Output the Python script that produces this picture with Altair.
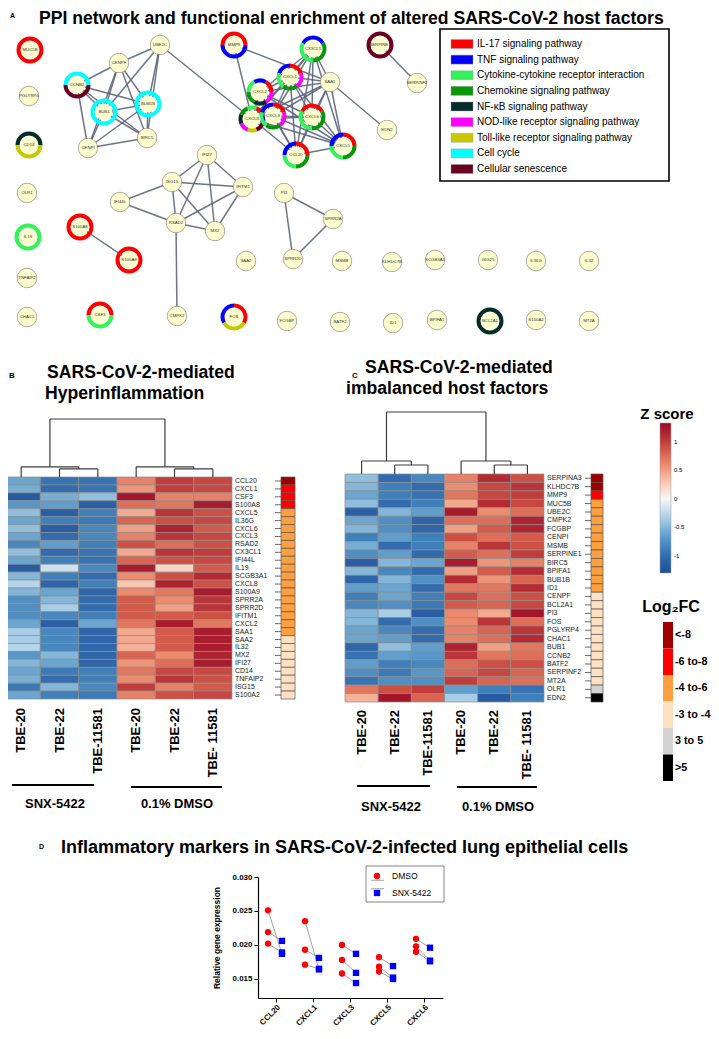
import math
import altair as alt
import pandas as pd

FONT = "Liberation Sans"
M = 8  # page margin
W, H = 703, 1023


def X(v):
    return v - M


def Y(v):
    return v - M


# ---------------- Panel A : network ----------------
pathways = ["IL-17 signaling pathway", "TNF signaling pathway",
            "Cytokine-cytokine receptor interaction", "Chemokine signaling pathway",
            "NF-\u03baB signaling pathway", "NOD-like receptor signaling pathway",
            "Toll-like receptor signaling pathway", "Cell cycle", "Cellular senescence"]
pathway_keys = ["IL17", "TNF", "CYT", "CHEM", "NFKB", "NOD", "TLR", "CC", "SEN"]
pathway_colors = ["#ff0000", "#0000ff", "#33f25a", "#0a960a", "#062c2a",
                  "#ff00ff", "#c8c800", "#00ffff", "#6b0022"]

node_names = ["MUC5B", "PGLYRP4", "CD14", "OLR1", "IL19", "TNFAIP2", "CHAC1",
              "CCNB2", "CENPF", "UBE2C", "BUB1", "BUB1B", "BIRC5", "CENPI",
              "MMP9", "CX3CL1", "SERPINE1", "SERPINF2", "CXCL1", "SAA1", "CXCL2", "CXCL8",
              "CXCL3", "CXCL6", "CCL20", "CXCL5", "EDN2",
              "IFI27", "ISG15", "IFITM1", "IFI44L", "RSAD2", "MX2", "PI3", "SPRR2A",
              "S100A8", "S100A9", "CMPK2",
              "SAA2", "SPRR2D", "MSMB", "KLHDC7B", "SCGB3A1", "GIG25", "IL36G", "IL32",
              "CSF3", "FOS", "FCGBP", "BATF2", "ID1", "BPIFA1", "BCL2A1", "S100A2", "MT2A"]
node_lx = [30, 29, 29, 27, 28, 27, 27,
           77, 119, 160, 104, 148, 147, 88,
           234, 313, 380, 417, 290, 330, 260, 252,
           273, 312, 296, 343, 387,
           207, 172, 243, 120, 176, 215, 284, 333,
           80, 129, 177,
           246, 293, 342, 392, 435, 488, 536, 589,
           100, 234, 287, 340, 393, 437, 490, 536, 589]
node_ly = [50, 96, 145, 193, 237, 278, 317,
           85, 63, 45, 112, 104, 138, 148,
           45, 49, 45, 83, 77, 82, 92, 119,
           116, 117, 155, 146, 130,
           155, 182, 187, 202, 223, 231, 193, 219,
           227, 260, 316,
           261, 259, 261, 262, 260, 260, 261, 261,
           315, 317, 321, 322, 323, 320, 321, 320, 321]

# pathway membership of ring nodes (clockwise) and start angle of first segment
ring_members = {
    "MUC5B": (["IL17"], 0),
    "CD14": (["NFKB", "TLR"], -90),
    "IL19": (["CYT"], 0),
    "CCNB2": (["CC", "SEN"], -90),
    "BUB1": (["CC"], 0),
    "BUB1B": (["CC"], 0),
    "MMP9": (["IL17", "TNF"], -90),
    "CX3CL1": (["TNF", "CHEM", "CYT"], -60),
    "SERPINE1": (["SEN"], 0),
    "CXCL1": (["TNF", "IL17", "NOD", "CHEM", "CYT"], -72),
    "CXCL2": (["TNF", "IL17", "NOD", "NFKB", "CHEM", "CYT"], -30),
    "CXCL8": (["CYT", "IL17", "TNF", "SEN", "TLR", "NOD", "NFKB", "CHEM"], -22.5),
    "CXCL3": (["TNF", "IL17", "NOD", "CHEM", "CYT"], -72),
    "CXCL6": (["IL17", "CHEM", "CYT"], -60),
    "CCL20": (["TNF", "IL17", "CHEM", "CYT"], -90),
    "CXCL5": (["TNF", "IL17", "CHEM", "CYT"], -90),
    "S100A8": (["IL17"], 0),
    "S100A9": (["IL17"], 0),
    "CSF3": (["IL17", "CYT"], -90),
    "FOS": (["TNF", "IL17", "TLR"], -120),
    "BCL2A1": (["NFKB"], 0),
}

edges = [("CCNB2", "CENPF"), ("CCNB2", "BUB1"), ("CCNB2", "BUB1B"), ("CCNB2", "BIRC5"),
         ("CCNB2", "CENPI"), ("CENPF", "UBE2C"), ("CENPF", "BUB1"), ("CENPF", "BUB1B"),
         ("CENPF", "BIRC5"), ("CENPF", "CENPI"), ("UBE2C", "BUB1"), ("UBE2C", "BUB1B"),
         ("UBE2C", "BIRC5"), ("BUB1", "BUB1B"), ("BUB1", "BIRC5"), ("BUB1", "CENPI"),
         ("BUB1B", "BIRC5"), ("BUB1B", "CENPI"), ("BIRC5", "CENPI"), ("UBE2C", "CXCL8"),
         ("MMP9", "CXCL8"), ("MMP9", "SAA1"), ("SAA1", "EDN2"), ("SERPINE1", "SERPINF2"),
         ("SAA1", "CX3CL1"), ("SAA1", "CXCL1"), ("SAA1", "CXCL2"), ("SAA1", "CXCL3"),
         ("SAA1", "CXCL6"), ("SAA1", "CCL20"), ("SAA1", "CXCL5"), ("SAA1", "CXCL8"),
         ("IFI27", "ISG15"), ("IFI27", "IFITM1"), ("IFI27", "RSAD2"), ("IFI27", "MX2"),
         ("ISG15", "IFITM1"), ("ISG15", "IFI44L"), ("ISG15", "RSAD2"), ("ISG15", "MX2"),
         ("IFITM1", "RSAD2"), ("IFITM1", "MX2"), ("IFI44L", "RSAD2"), ("RSAD2", "MX2"),
         ("RSAD2", "CMPK2"), ("PI3", "SPRR2A"), ("PI3", "SPRR2D"), ("SPRR2A", "SPRR2D"),
         ("S100A8", "S100A9")]
chemokines = ["CX3CL1", "CXCL1", "CXCL2", "CXCL8", "CXCL3", "CXCL6", "CCL20", "CXCL5"]

# ---------------- Panels B / C : heatmaps ----------------
sample_labels = ["TBE-20", "TBE-22", "TBE-11581", "TBE-20", "TBE-22", "TBE- 11581"]
sample_groups = ["SNX-5422", "SNX-5422", "SNX-5422", "0.1% DMSO", "0.1% DMSO", "0.1% DMSO"]

genes_B = ["CCL20", "CXCL1", "CSF3", "S100A8", "CXCL5", "IL36G", "CXCL6", "CXCL3", "RSAD2",
           "CX3CL1", "IFI44L", "IL19", "SCGB3A1", "CXCL8", "S100A9", "SPRR2A", "SPRR2D",
           "IFITM1", "CXCL2", "SAA1", "SAA2", "IL32", "MX2", "IFI27", "CD14", "TNFAIP2",
           "ISG15", "S100A2"]
z_B = [
    [-0.60, -0.95, -0.95, 0.65, 1.00, 0.95],
    [-0.55, -1.00, -0.95, 0.55, 1.00, 0.95],
    [-1.15, -0.55, -0.45, 1.25, 0.65, 0.65],
    [-0.70, -0.65, -1.10, 0.75, 0.70, 1.20],
    [-0.45, -1.10, -0.85, 0.45, 1.05, 0.90],
    [-0.60, -0.85, -0.90, 0.80, 0.90, 0.95],
    [-0.45, -1.10, -0.80, 0.50, 1.15, 0.85],
    [-0.60, -1.00, -0.80, 0.65, 1.05, 0.95],
    [-0.80, -0.65, -0.85, 0.90, 0.75, 0.90],
    [-0.45, -1.00, -0.95, 0.45, 1.05, 1.00],
    [-0.60, -0.85, -0.95, 0.80, 0.90, 0.95],
    [-1.15, -0.20, -0.80, 1.20, 0.20, 0.85],
    [-0.50, -0.85, -1.00, 0.60, 0.90, 1.10],
    [-0.30, -1.05, -0.85, 0.30, 1.15, 0.90],
    [-0.50, -0.60, -1.05, 0.60, 0.70, 1.20],
    [-0.75, -0.50, -1.00, 0.85, 0.60, 1.05],
    [-0.75, -0.35, -1.00, 0.85, 0.50, 1.05],
    [-0.75, -0.80, -0.85, 0.85, 0.85, 0.90],
    [-0.60, -1.10, -0.60, 0.70, 1.20, 0.70],
    [-0.35, -0.80, -1.05, 0.45, 0.85, 1.20],
    [-0.35, -0.80, -1.05, 0.45, 0.85, 1.20],
    [-0.30, -0.80, -1.05, 0.40, 0.85, 1.20],
    [-0.70, -0.50, -1.05, 0.80, 0.60, 1.15],
    [-0.50, -0.60, -1.05, 0.55, 0.75, 1.20],
    [-0.60, -0.90, -0.85, 0.70, 0.95, 0.95],
    [-0.55, -1.00, -0.85, 0.60, 1.05, 0.90],
    [-0.90, -0.50, -0.80, 1.00, 0.65, 0.85],
    [-0.60, -0.85, -0.90, 0.65, 0.90, 0.95],
]
fc_B = ["<-8", "-6 to-8", "-6 to-8", "-6 to-8", "-4 to-6", "-4 to-6", "-4 to-6", "-4 to-6",
        "-4 to-6", "-4 to-6", "-4 to-6", "-4 to-6", "-4 to-6", "-4 to-6", "-4 to-6", "-4 to-6",
        "-4 to-6", "-4 to-6", "-4 to-6", "-4 to-6", "-3 to -4", "-3 to -4", "-3 to -4",
        "-3 to -4", "-3 to -4", "-3 to -4", "-3 to -4", "-3 to -4"]
merges_B = [(1, 2, 1.4), (0, 6, 1.75), (4, 5, 1.4), (3, 8, 1.75), (7, 9, 10.0)]

genes_C = ["SERPINA3", "KLHDC7B", "MMP9", "MUC5B", "UBE2C", "CMPK2", "FCGBP", "CENPI", "MSMB",
           "SERPINE1", "BIRC5", "BPIFA1", "BUB1B", "ID1", "CENPF", "BCL2A1", "PI3", "FOS",
           "PGLYRP4", "CHAC1", "BUB1", "CCNB2", "BATF2", "SERPINF2", "MT2A", "OLR1", "EDN2"]
z_C = [
    [-0.45, -1.00, -0.80, 0.65, 1.10, 0.90],
    [-0.50, -0.85, -1.00, 0.60, 0.95, 1.05],
    [-0.60, -0.85, -0.95, 0.70, 0.95, 1.00],
    [-0.45, -1.00, -0.85, 0.45, 1.10, 0.95],
    [-1.10, -0.50, -0.65, 1.20, 0.60, 0.75],
    [-0.60, -0.75, -1.05, 0.75, 0.75, 1.15],
    [-0.50, -0.75, -1.05, 0.50, 0.85, 1.15],
    [-0.85, -0.65, -0.85, 0.90, 0.75, 0.85],
    [-0.55, -1.00, -0.85, 0.65, 1.05, 0.90],
    [-0.75, -0.65, -1.00, 0.85, 0.75, 1.00],
    [-1.10, -0.50, -0.60, 1.20, 0.55, 0.65],
    [-0.50, -0.80, -1.00, 0.50, 0.85, 1.10],
    [-1.05, -0.50, -0.75, 1.10, 0.55, 0.80],
    [-0.65, -0.60, -1.00, 0.70, 0.70, 1.10],
    [-0.85, -0.60, -0.85, 0.95, 0.75, 0.90],
    [-0.80, -0.75, -0.90, 0.85, 0.80, 0.95],
    [-0.50, -0.35, -1.10, 0.60, 0.45, 1.25],
    [-0.50, -1.00, -0.75, 0.60, 1.05, 0.75],
    [-0.60, -0.80, -1.00, 0.65, 0.80, 1.05],
    [-0.60, -0.65, -1.00, 0.65, 0.75, 1.10],
    [-1.05, -0.45, -0.65, 1.15, 0.50, 0.70],
    [-0.95, -0.65, -0.70, 1.05, 0.70, 0.75],
    [-0.65, -0.85, -0.80, 0.75, 0.90, 0.90],
    [-0.75, -0.90, -0.70, 0.80, 0.95, 0.80],
    [-0.95, -0.75, -0.75, 1.00, 0.80, 0.75],
    [0.70, 0.90, 1.00, -0.65, -0.85, -0.95],
    [0.40, 1.25, 0.80, -0.35, -1.15, -0.85],
]
fc_C = ["<-8", "<-8", "-6 to-8", "-4 to-6", "-4 to-6", "-4 to-6", "-4 to-6", "-4 to-6",
        "-4 to-6", "-4 to-6", "-4 to-6", "-4 to-6", "-4 to-6", "-4 to-6", "-3 to -4",
        "-3 to -4", "-3 to -4", "-3 to -4", "-3 to -4", "-3 to -4", "-3 to -4", "-3 to -4",
        "-3 to -4", "-3 to -4", "-3 to -4", "3 to 5", ">5"]
merges_C = [(1, 2, 1.45), (0, 6, 2.1), (4, 5, 1.45), (3, 8, 2.1), (7, 9, 10.0)]

fc_levels = ["<-8", "-6 to-8", "-4 to-6", "-3 to -4", "3 to 5", ">5"]
fc_colors = ["#9e0000", "#ff0000", "#ffa040", "#ffe0c2", "#d3d3d3", "#000000"]
z_ticks = [1, 0.5, 0, -0.5, -1]
z_stops = [-1.3, -1.1, -0.85, -0.6, -0.3, 0, 0.3, 0.6, 0.85, 1.1, 1.33]
z_colors = ["#1f4e95", "#2a5fa5", "#3f80bb", "#6aa6d0", "#b5d5ea", "#f7f7f7",
            "#f9c6ae", "#ec8b6e", "#d45a4a", "#b52a33", "#9a0a25"]

# ---------------- Panel D ----------------
d_cats = ["CCL20", "CXCL1", "CXCL3", "CXCL5", "CXCL6"]
d_groups = ["DMSO", "SNX-5422"]
dmso_vals = [[0.0251, 0.0219, 0.0202], [0.0235, 0.0193, 0.0171], [0.0200, 0.0178, 0.0158],
             [0.0182, 0.0168, 0.0161], [0.0209, 0.0198, 0.0190]]
snx_vals = [[0.0187, 0.0206, 0.0189], [0.0164, 0.0181, 0.0165], [0.0187, 0.0159, 0.0144],
            [0.0169, 0.0152, 0.0150], [0.0196, 0.0177, 0.0176]]
d_yticks = [0.015, 0.020, 0.025, 0.030]

layers = []


def text(t, x, y, size, weight="normal", align="left", baseline="middle", angle=0):
    return alt.Chart(pd.DataFrame({"t": [t]})).mark_text(
        align=align, baseline=baseline, fontSize=size, fontWeight=weight, angle=angle,
        font=FONT, color="black").encode(x=alt.value(X(x)), y=alt.value(Y(y)), text="t:N")


def box(x0, x1, y0, y1, stroke="black", width=1.5, fill="white"):
    return alt.Chart(pd.DataFrame({"b": [0]})).mark_rect(
        fill=fill, stroke=stroke, strokeWidth=width).encode(
        x=alt.value(X(x0)), x2=alt.value(X(x1)), y=alt.value(Y(y0)), y2=alt.value(Y(y1)))


def hline(x0, x1, y, width=2):
    return alt.Chart(pd.DataFrame({"b": [0]})).mark_rule(
        color="black", strokeWidth=width).encode(
        x=alt.value(X(x0)), x2=alt.value(X(x1)), y=alt.value(Y(y)))


# ---- Panel A ----
pos = {n: (x, y) for n, x, y in zip(node_names, node_lx, node_ly)}
all_edges = list(edges)
for i in range(len(chemokines)):
    for j in range(i + 1, len(chemokines)):
        all_edges.append((chemokines[i], chemokines[j]))
edge_df = pd.DataFrame([{"x": pos[a][0], "y": pos[a][1], "x2": pos[b][0], "y2": pos[b][1]}
                        for a, b in all_edges])
nx_scale = alt.Scale(domain=[0, 719], range=[X(0), X(719)], zero=False, nice=False)
ny_scale = alt.Scale(domain=[0, 1039], range=[Y(0), Y(1039)], zero=False, nice=False)

layers.append(alt.Chart(edge_df).mark_rule(color="#5e667c", strokeWidth=1.5, opacity=0.9).encode(
    x=alt.X("x:Q", scale=nx_scale, axis=None), y=alt.Y("y:Q", scale=ny_scale, axis=None),
    x2="x2:Q", y2="y2:Q"))

key_to_name = dict(zip(pathway_keys, pathways))
arc_rows = []
for n, (members, start) in ring_members.items():
    step = 360.0 / len(members)
    for k, m in enumerate(members):
        arc_rows.append({"node": n, "x": pos[n][0], "y": pos[n][1], "path": key_to_name[m],
                         "a0": start + k * step, "a1": start + (k + 1) * step})
arc_df = pd.DataFrame(arc_rows)
path_scale = alt.Scale(domain=pathways, range=pathway_colors)
layers.append(alt.Chart(arc_df).mark_arc(radius=13.5, radius2=9.5).encode(
    x=alt.X("x:Q", scale=nx_scale, axis=None), y=alt.Y("y:Q", scale=ny_scale, axis=None),
    theta=alt.Theta("a0:Q", stack=None, scale=alt.Scale(domain=[0, 360], range=[0, 2 * math.pi])),
    theta2="a1:Q",
    color=alt.Color("path:N", scale=path_scale, legend=None)))

node_df = pd.DataFrame({"node": node_names, "x": node_lx, "y": node_ly,
                        "ring": [n in ring_members for n in node_names]})
layers.append(alt.Chart(node_df[~node_df.ring]).mark_circle(
    size=380, color="#fdfccc", stroke="#777", strokeWidth=0.6, opacity=1).encode(
    x=alt.X("x:Q", scale=nx_scale, axis=None), y=alt.Y("y:Q", scale=ny_scale, axis=None)))
layers.append(alt.Chart(node_df[node_df.ring]).mark_circle(
    size=285, color="#fdfccc", opacity=1).encode(
    x=alt.X("x:Q", scale=nx_scale, axis=None), y=alt.Y("y:Q", scale=ny_scale, axis=None)))
layers.append(alt.Chart(node_df).mark_text(fontSize=4.3, font=FONT, color="#333").encode(
    x=alt.X("x:Q", scale=nx_scale, axis=None), y=alt.Y("y:Q", scale=ny_scale, axis=None),
    text="node:N"))

# legend of panel A
layers.append(box(440, 669, 29, 181, width=1.6))
leg_df = pd.DataFrame({"path": pathways})
leg_y = alt.Scale(domain=pathways, range=[Y(44), Y(169)], padding=0)
layers.append(alt.Chart(leg_df).mark_point(
    shape="M-1.1,-0.45H1.1V0.45H-1.1Z", size=400, filled=True, opacity=1,
    stroke="#999", strokeWidth=0.4).encode(
    x=alt.value(X(462)), y=alt.Y("path:N", scale=leg_y, sort=pathways, axis=None),
    color=alt.Color("path:N", scale=path_scale, legend=None)))
layers.append(alt.Chart(leg_df).mark_text(align="left", baseline="middle", fontSize=10,
                                         font=FONT, color="black").encode(
    x=alt.value(X(477)), y=alt.Y("path:N", scale=leg_y, sort=pathways, axis=None),
    text="path:N"))

layers.append(text("A", 10, 16, 7, "bold"))
layers.append(text("PPI network and functional enrichment of altered SARS-CoV-2 host factors",
                   39, 24, 17.6, "bold", baseline="alphabetic"))

# ---- Panels B and C ----
z_scale = alt.Scale(domain=z_stops, range=z_colors, interpolate="rgb")
fc_scale = alt.Scale(domain=fc_levels, range=fc_colors)


def dendro(merges, x0, x1, ybot, ytop):
    p = [i + 0.5 for i in range(6)]
    h = [0.0] * 6
    rows = []
    for a, b, hh in merges:
        rows.append({"x": p[a], "x2": p[b], "y": hh, "y2": hh})
        rows.append({"x": p[a], "x2": p[a], "y": h[a], "y2": hh})
        rows.append({"x": p[b], "x2": p[b], "y": h[b], "y2": hh})
        p.append((p[a] + p[b]) / 2)
        h.append(hh)
    return alt.Chart(pd.DataFrame(rows)).mark_rule(color="#3c3c3c", strokeWidth=1.2).encode(
        x=alt.X("x:Q", scale=alt.Scale(domain=[0, 6], range=[X(x0), X(x1)], nice=False, zero=False), axis=None),
        x2="x2:Q",
        y=alt.Y("y:Q", scale=alt.Scale(domain=[0, 10], range=[Y(ybot), Y(ytop)], nice=False, zero=False), axis=None),
        y2="y2:Q")


def heatmap(genes, z, fc, x0, x1, y0, y1, lab_top, ann_x0, ann_x1, legend):
    n = len(genes)
    rows = []
    for r, (g, vals) in enumerate(zip(genes, z)):
        for c, v in enumerate(vals):
            rows.append({"gene": g, "c0": c, "c1": c + 1, "r0": r, "r1": r + 1, "z": v})
    xs = alt.Scale(domain=[0, 6], range=[X(x0), X(x1)], zero=False, nice=False)
    ys = alt.Scale(domain=[0, n], range=[Y(y0), Y(y1)], zero=False, nice=False)
    out = []
    out.append(alt.Chart(pd.DataFrame(rows)).mark_rect(stroke="#8c8c8c", strokeWidth=0.7).encode(
        x=alt.X("c0:Q", scale=xs, axis=None), x2="c1:Q",
        y=alt.Y("r0:Q", scale=ys, axis=None), y2="r1:Q",
        color=alt.Color("z:Q", scale=z_scale, legend=legend)))
    gdf = pd.DataFrame({"gene": genes, "rm": [r + 0.5 for r in range(n)],
                        "r0": list(range(n)), "r1": list(range(1, n + 1)), "fc": fc})
    # gene names
    out.append(alt.Chart(gdf).mark_text(align="left", baseline="middle", fontSize=7, font=FONT,
                                        color="#222").encode(
        x=alt.value(X(x1 + 3)), y=alt.Y("rm:Q", scale=ys, axis=None), text="gene:N"))
    # annotation ticks and bar
    out.append(alt.Chart(gdf).mark_rule(color="#444", strokeWidth=0.8).encode(
        x=alt.value(X(ann_x0 - 6)), x2=alt.value(X(ann_x0)), y=alt.Y("rm:Q", scale=ys, axis=None)))
    out.append(alt.Chart(gdf).mark_rect(stroke="#555", strokeWidth=0.7).encode(
        x=alt.value(X(ann_x0)), x2=alt.value(X(ann_x1)),
        y=alt.Y("r0:Q", scale=ys, axis=None), y2="r1:Q",
        color=alt.Color("fc:N", scale=fc_scale, legend=None)))
    # sample labels
    sdf = pd.DataFrame({"s": sample_labels, "cm": [c + 0.5 for c in range(6)]})
    out.append(alt.Chart(sdf).mark_text(align="right", baseline="middle", angle=270, fontSize=13,
                                        fontWeight="bold", font=FONT, color="black").encode(
        x=alt.X("cm:Q", scale=xs, axis=None), y=alt.value(Y(lab_top)), text="s:N"))
    return out


z_legend = alt.Legend(orient="none", legendX=X(660), legendY=Y(423), title=None,
                      direction="vertical", gradientLength=150, gradientThickness=11,
                      values=z_ticks, labelExpr="'' + datum.value", labelFontSize=6,
                      labelFont=FONT, labelOffset=3, gradientStrokeColor="#999",
                      gradientStrokeWidth=0.5, padding=0)

layers += heatmap(genes_B, z_B, fc_B, 2, 232, 477, 699, 708, 281, 295, z_legend)
layers.append(dendro(merges_B, 2, 232, 477, 419))
layers += heatmap(genes_C, z_C, fc_C, 345, 544, 474, 702, 710, 591, 603, None)
layers.append(dendro(merges_C, 345, 544, 474, 412))

layers.append(text("B", 9, 376, 8, "bold"))
layers.append(text("SARS-CoV-2-mediated", 47, 378, 17.6, "bold", baseline="alphabetic"))
layers.append(text(" Hyperinflammation", 45, 399, 17.6, "bold", baseline="alphabetic"))
layers.append(text("C", 352, 376, 8, "bold"))
layers.append(text("SARS-CoV-2-mediated", 365, 373, 17.6, "bold", baseline="alphabetic"))
layers.append(text("imbalanced host factors", 346, 394, 17.6, "bold", baseline="alphabetic"))

layers.append(hline(12, 94, 785))
layers.append(hline(131, 222, 787))
layers.append(text(sample_groups[0], 55, 804, 13, "bold", align="center"))
layers.append(text(sample_groups[3], 177, 804, 13, "bold", align="center"))
layers.append(hline(357, 430, 786))
layers.append(hline(457, 537, 787))
layers.append(text(sample_groups[0], 391, 807, 13, "bold", align="center"))
layers.append(text(sample_groups[3], 498, 807, 13, "bold", align="center"))

# Z score title
layers.append(text("Z score", 667, 414, 15, "bold", align="center"))

# Log2FC legend
fcl_scale = alt.Scale(domain=fc_levels, range=[Y(622), Y(781)], paddingInner=0, paddingOuter=0)
fcl_df = pd.DataFrame({"fc": fc_levels})
layers.append(alt.Chart(fcl_df).mark_rect().encode(
    x=alt.value(X(663)), x2=alt.value(X(673)),
    y=alt.Y("fc:N", scale=fcl_scale, sort=fc_levels, axis=None),
    color=alt.Color("fc:N", scale=fc_scale, legend=None)))
layers.append(alt.Chart(fcl_df).mark_text(align="left", baseline="middle", fontSize=10.8,
                                          fontWeight="bold", font=FONT, color="black").encode(
    x=alt.value(X(675)),
    y=alt.Y("fc:N", scale=fcl_scale, sort=fc_levels, axis=None, bandPosition=0.5),
    text="fc:N"))
layers.append(text("Log\u2082FC", 671, 607, 16, "bold", align="center"))

# ---- Panel D ----
d_rows = []
for c, dv, sv in zip(d_cats, dmso_vals, snx_vals):
    for i in range(3):
        d_rows.append({"cat": c, "grp": "DMSO", "val": dv[i], "pair": f"{c}-{i}"})
        d_rows.append({"cat": c, "grp": "SNX-5422", "val": sv[i], "pair": f"{c}-{i}"})
d_df = pd.DataFrame(d_rows)
D_AX = 998
dx = alt.Scale(domain=d_cats, range=[X(258), X(443)], paddingInner=0, paddingOuter=0)
dy = alt.Scale(domain=[0.0122, 0.030], range=[Y(D_AX), Y(877)], zero=False, nice=False)
doff = alt.Scale(type="point", domain=d_groups, range=[10, 24], padding=0)
grp_color = alt.Scale(domain=d_groups, range=["#ff0000", "#0000ff"])
grp_shape = alt.Scale(domain=d_groups, range=["circle", "square"])

layers.append(alt.Chart(d_df).mark_line(color="#8a8a8a", strokeWidth=0.8).encode(
    x=alt.X("cat:N", scale=dx, sort=d_cats, axis=None),
    xOffset=alt.XOffset("grp:N", scale=doff),
    y=alt.Y("val:Q", scale=dy, axis=None),
    detail="pair:N", order="grp:N"))
layers.append(alt.Chart(d_df).mark_point(filled=True, size=40, opacity=1).encode(
    x=alt.X("cat:N", scale=dx, sort=d_cats, axis=alt.Axis(
        orient="bottom", offset=Y(D_AX) - H, labelAngle=-45, labelFont=FONT, labelFontSize=8,
        labelFontWeight="bold", labelColor="black", tickSize=4, tickColor="black",
        domainColor="black", domainWidth=1.2, grid=False, title=None, labelPadding=1)),
    xOffset=alt.XOffset("grp:N", scale=doff),
    y=alt.Y("val:Q", scale=dy, axis=alt.Axis(
        orient="left", offset=-X(258), values=d_yticks, format=".3f", labelFont=FONT,
        labelFontSize=8, labelFontWeight="bold", labelColor="black", tickSize=4,
        tickColor="black", domainColor="black", domainWidth=1.2, grid=False,
        title="Relative gene expression", titleFont=FONT, titleFontSize=8.5,
        titleFontWeight="bold", titleColor="black", titlePadding=10)),
    color=alt.Color("grp:N", scale=grp_color, legend=None),
    shape=alt.Shape("grp:N", scale=grp_shape, legend=None)))

layers.append(box(366, 444, 866, 902, stroke="#666", width=0.8))
dl_df = pd.DataFrame({"grp": d_groups})
dly = alt.Scale(domain=d_groups, range=[Y(876), Y(893)], padding=0)
layers.append(alt.Chart(dl_df).mark_rule(color="#8a8a8a", strokeWidth=0.8).encode(
    x=alt.value(X(371)), x2=alt.value(X(384)),
    y=alt.Y("grp:N", scale=dly, sort=d_groups, axis=None)))
layers.append(alt.Chart(dl_df).mark_point(filled=True, size=40, opacity=1).encode(
    x=alt.value(X(377)), y=alt.Y("grp:N", scale=dly, sort=d_groups, axis=None),
    color=alt.Color("grp:N", scale=grp_color, legend=None),
    shape=alt.Shape("grp:N", scale=grp_shape, legend=None)))
layers.append(alt.Chart(dl_df).mark_text(align="left", baseline="middle", fontSize=8.5,
                                         font=FONT, color="black").encode(
    x=alt.value(X(392)), y=alt.Y("grp:N", scale=dly, sort=d_groups, axis=None), text="grp:N"))

layers.append(text("D", 39, 847, 7, "bold"))
layers.append(text("Inflammatory markers in SARS-CoV-2-infected lung epithelial cells",
                   61, 853, 18, "bold", baseline="alphabetic"))

chart = alt.layer(*layers).resolve_scale(
    x="independent", y="independent", color="independent", shape="independent",
    theta="independent").properties(
    width=W, height=H, padding=0, autosize=alt.AutoSizeParams(type="none"),
    background="white").configure_view(stroke=None)

chart.save("out.html", embed_options={"renderer": "svg", "actions": False})
